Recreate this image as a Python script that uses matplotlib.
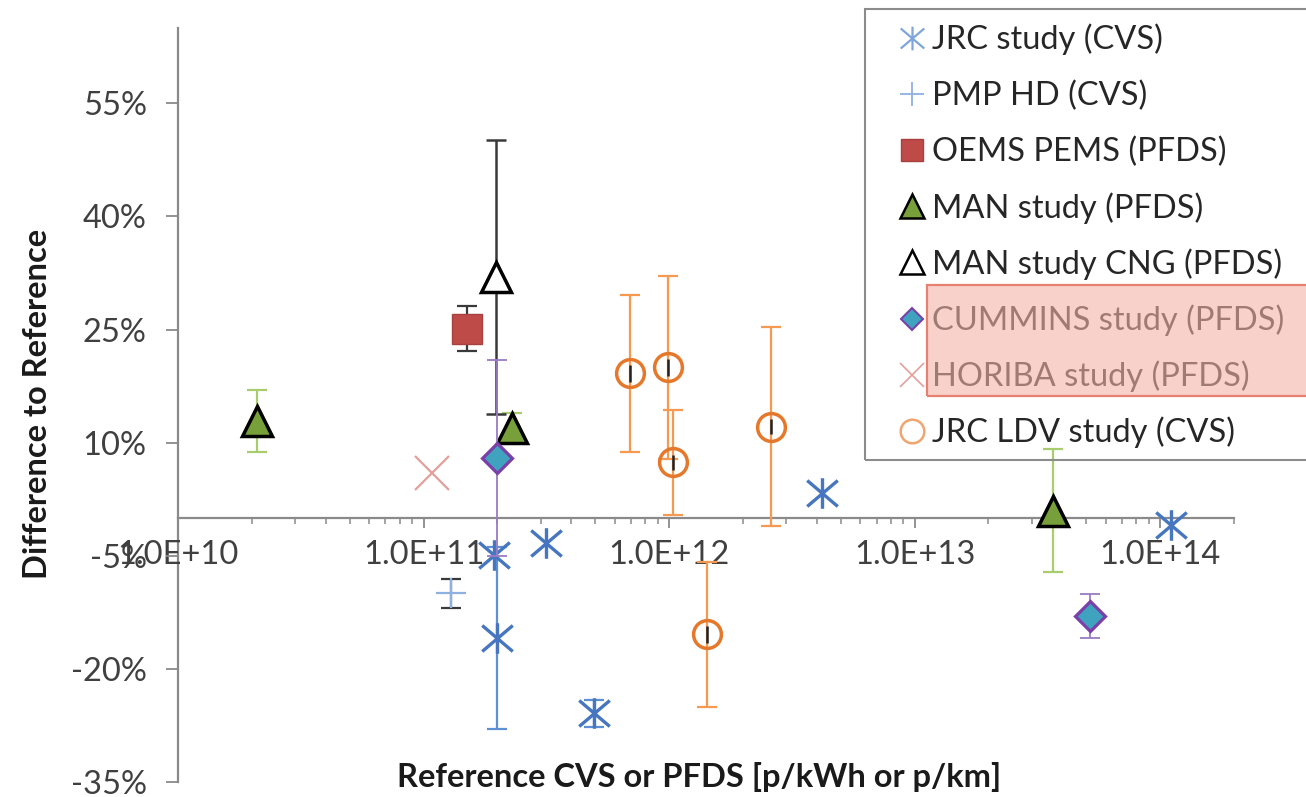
import numpy as np
import matplotlib
matplotlib.use('Agg')
import matplotlib.pyplot as plt
from matplotlib.path import Path
from matplotlib.lines import Line2D
from matplotlib.patches import Rectangle
from matplotlib.ticker import FixedLocator, FixedFormatter, LogLocator, NullFormatter

plt.rcParams['font.family'] = ['Lato', 'DejaVu Sans']

# ---------------- data (x: reference count, y: difference in %) ----------------
jrc_x = [1.94e11, 1.99e11, 3.15e11, 4.95e11, 4.2e12, 1.11e14]
jrc_y = [-4.9, -15.9, -3.3, -25.9, 3.3, -0.9]
jrc_err = [0, 12.1, 0, 1.8, 0, 0]

pmp_x = [1.29e11]
pmp_y = [-10.0]
pmp_err = [1.9]

oems_x = [1.51e11]
oems_y = [25.1]
oems_err = [3.0]

man_x = [2.1e10, 2.3e11, 3.65e13]
man_y = [12.9, 12.0, 1.0]
man_err = [4.1, 2.0, 8.2]

cng_x = [1.97e11]
cng_y = [32.0]
cng_err = [18.2]

cum_x = [2.0e11, 5.2e13]
cum_y = [8.0, -13.0]
cum_err = [13.0, 2.9]

hor_x = [1.08e11]
hor_y = [6.0]

ldv_x = [6.95e11, 9.9e11, 1.04e12, 1.43e12, 2.61e12]
ldv_y = [19.2, 20.0, 7.4, -15.4, 12.1]
ldv_err = [10.4, 12.1, 7.0, 9.6, 13.2]
ldv_rep_err = [1.1, 1.1, 1.0, 1.1, 1.0]

y_ticks = [-35, -20, -5, 10, 25, 40, 55]
y_tick_labels = ['-35%', '-20%', '-5%', '10%', '25%', '40%', '55%']
x_ticks = [1e10, 1e11, 1e12, 1e13, 1e14]
x_tick_labels = ['1.0E+10', '1.0E+11', '1.0E+12', '1.0E+13', '1.0E+14']

series_labels = ['JRC study (CVS)', 'PMP HD (CVS)', 'OEMS PEMS (PFDS)', 'MAN study (PFDS)',
                 'MAN study CNG (PFDS)', 'CUMMINS study (PFDS)', 'HORIBA study (PFDS)',
                 'JRC LDV study (CVS)']

# ---------------- styling ----------------
W, H = 1306, 797
fig = plt.figure(figsize=(W / 100, H / 100), dpi=100)
ax = fig.add_axes([178 / W, (H - 782) / H, 1056 / W, 754 / H])

FS = 23.5
tick_col = '#404040'
axis_col = '#8a8a8a'

# asterisk marker (Excel style)
ast = Path([(0, -1), (0, 1), (-1, -0.85), (1, 0.85), (-1, 0.85), (1, -0.85)],
           [Path.MOVETO, Path.LINETO, Path.MOVETO, Path.LINETO, Path.MOVETO, Path.LINETO])

blue = '#4676C0'
blue_err = '#5E90D6'
pmp_col = '#8EB1E0'
red = '#BE4B48'
green = '#77A03A'
green_err = '#A9CC6E'
teal = '#3FA2BE'
purple = '#7A3FA8'
purple_err = '#9A7CC4'
pink = '#E5A09B'
orange = '#E5782B'
orange_err = '#F59A50'
black_err = '#3A3A3A'

cap = 7
elw = 1.6


def ebar(x, y, e, col, lw=elw, capsize=cap, z=2):
    x = np.asarray(x); y = np.asarray(y); e = np.asarray(e, dtype=float)
    m = e > 0
    if m.any():
        ax.errorbar(x[m], y[m], yerr=e[m], fmt='none', ecolor=col, elinewidth=lw,
                    capsize=capsize, capthick=lw, zorder=z)


# JRC study
ebar(jrc_x, jrc_y, jrc_err, blue_err, z=2)
ax.plot(jrc_x, jrc_y, linestyle='none', marker=ast, markersize=22, markeredgewidth=2.4,
        color=blue, zorder=2.1)
# PMP HD
ebar(pmp_x, pmp_y, pmp_err, black_err, z=2.2)
ax.plot(pmp_x, pmp_y, linestyle='none', marker='+', markersize=21, markeredgewidth=1.6,
        color=pmp_col, zorder=2.3)
# OEMS PEMS
ebar(oems_x, oems_y, oems_err, black_err, z=2.4)
ax.plot(oems_x, oems_y, linestyle='none', marker='s', markersize=21.5, markerfacecolor=red,
        markeredgecolor='#A8413E', markeredgewidth=1.0, zorder=2.5)
# MAN study
ebar(man_x, man_y, man_err, green_err, z=2.6)
ax.plot(man_x, man_y, linestyle='none', marker='^', markersize=21.5, markerfacecolor=green,
        markeredgecolor='black', markeredgewidth=2.5, zorder=2.7)
# MAN study CNG
ebar(cng_x, cng_y, cng_err, black_err, lw=1.8, z=2.8)
ax.plot(cng_x, cng_y, linestyle='none', marker='^', markersize=21.5, markerfacecolor='white',
        markeredgecolor='black', markeredgewidth=2.5, zorder=2.9)
# CUMMINS
ebar(cum_x, cum_y, cum_err, purple_err, lw=1.3, z=3.0)
ax.plot(cum_x, cum_y, linestyle='none', marker='D', markersize=15, markerfacecolor=teal,
        markeredgecolor=purple, markeredgewidth=2.3, zorder=3.1)
# HORIBA
ax.plot(hor_x, hor_y, linestyle='none', marker='x', markersize=25, markeredgewidth=1.6,
        color=pink, zorder=3.2)
# JRC LDV
ebar(ldv_x, ldv_y, ldv_err, orange_err, z=3.3)
ax.plot(ldv_x, ldv_y, linestyle='none', marker='o', markersize=20, markerfacecolor='none',
        markeredgecolor=orange, markeredgewidth=2.5, zorder=3.4)
ebar(ldv_x, ldv_y, ldv_rep_err, '#222222', lw=1.8, capsize=0, z=3.5)

# ---------------- axes ----------------
ax.set_xscale('log')
ax.set_xlim(1e10, 2e14)
ax.set_ylim(-35, 65)
ax.spines['top'].set_visible(False)
ax.spines['right'].set_visible(False)
ax.spines['bottom'].set_position(('data', 0))
for s in ('bottom', 'left'):
    ax.spines[s].set_color(axis_col)
    ax.spines[s].set_linewidth(1.6)
    ax.spines[s].set_zorder(1)

ax.yaxis.set_major_locator(FixedLocator(y_ticks))
ax.yaxis.set_major_formatter(FixedFormatter(y_tick_labels))
ax.xaxis.set_major_locator(FixedLocator(x_ticks))
ax.xaxis.set_major_formatter(FixedFormatter(x_tick_labels))
ax.xaxis.set_minor_locator(LogLocator(base=10, subs=np.arange(2, 10)))
ax.xaxis.set_minor_formatter(NullFormatter())

ax.tick_params(axis='y', which='major', direction='out', length=8.5, width=1.3,
               color=axis_col, labelsize=FS, labelcolor=tick_col, pad=14)
ax.tick_params(axis='x', which='major', direction='out', length=7.5, width=1.3,
               color=axis_col, labelsize=FS, labelcolor=tick_col, pad=8)
ax.tick_params(axis='x', which='minor', direction='out', length=4.5, width=1.1,
               color=axis_col)

ax.set_ylabel('Difference to Reference', fontsize=FS, fontweight='bold', color='#1a1a1a')
ax.yaxis.set_label_coords((38 - 178) / 1056, 0.501)
ax.yaxis.label.set_va('center')
ax.set_xlabel('Reference CVS or PFDS [p/kWh or p/km]', fontsize=FS, fontweight='bold',
              color='#1a1a1a')
ax.xaxis.set_label_coords((699 - 178) / 1056, (782 - 777) / 754)
ax.xaxis.label.set_va('center')

# ---------------- legend (manual, Excel-like box running past the right edge) -------------
fig.add_artist(Rectangle((865 / W, 1 - 460 / H), (1320 - 865) / W, (460 - 9) / H,
                         transform=fig.transFigure, facecolor='none', edgecolor='#8c8c8c',
                         linewidth=1.5, zorder=5))

leg_styles = [
    dict(marker=ast, markersize=17, markeredgewidth=1.6, color='#7FA6DC', markerfacecolor='none'),
    dict(marker='+', markersize=17, markeredgewidth=1.3, color=pmp_col),
    dict(marker='s', markersize=16, markerfacecolor=red, markeredgecolor='#A8413E', markeredgewidth=1.0),
    dict(marker='^', markersize=17, markerfacecolor=green, markeredgecolor='black', markeredgewidth=1.8),
    dict(marker='^', markersize=17, markerfacecolor='white', markeredgecolor='black', markeredgewidth=1.8),
    dict(marker='D', markersize=11, markerfacecolor=teal, markeredgecolor=purple, markeredgewidth=1.5),
    dict(marker='x', markersize=17, markeredgewidth=1.2, color=pink),
    dict(marker='o', markersize=17, markerfacecolor='none', markeredgecolor='#F0A470', markeredgewidth=1.8),
]
for i, (lab, st) in enumerate(zip(series_labels, leg_styles)):
    yc = 37.5 + 56.2 * i
    fig.add_artist(Line2D([912 / W], [1 - yc / H], transform=fig.transFigure,
                          linestyle='none', zorder=6, **st))
    fig.text(932 / W, 1 - (yc + 11.5) / H, lab, fontsize=FS, color='#262626',
             ha='left', va='baseline', zorder=6)

# highlight over CUMMINS / HORIBA entries
fig.add_artist(Rectangle((927 / W, 1 - 396 / H), (1320 - 927) / W, (396 - 285) / H,
                         transform=fig.transFigure, facecolor='#F2B3A8', alpha=0.6,
                         edgecolor='none', zorder=7))
fig.add_artist(Rectangle((927 / W, 1 - 396 / H), (1320 - 927) / W, (396 - 285) / H,
                         transform=fig.transFigure, facecolor='none',
                         edgecolor='#E8806F', linewidth=1.6, zorder=7.1))

fig.savefig('out.png', dpi=100)
